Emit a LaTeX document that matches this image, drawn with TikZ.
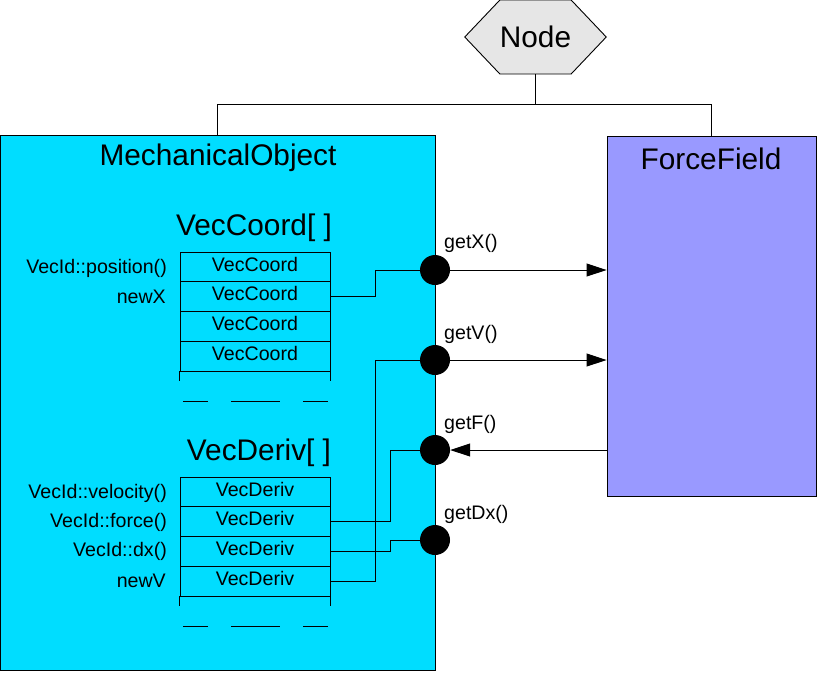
\documentclass[tikz,border=0pt]{standalone}
\usepackage{fontspec}
\setmainfont{Liberation Sans}
\usepackage{xcolor}
\usetikzlibrary{arrows.meta,shapes.symbols}
\definecolor{moCyan}{RGB}{0,221,255}
\definecolor{ffLilac}{RGB}{153,153,255}
\definecolor{nodeGrey}{RGB}{230,230,230}
\newcommand{\BigTxt}{\fontsize{29.8}{34}\selectfont}
\newcommand{\SmallTxt}{\fontsize{19.6}{22}\selectfont}
\tikzset{
  classbox/.style={draw,line width=0.9pt,inner sep=0pt},
  vecrow/.style={draw,line width=0.9pt,minimum width=150pt,minimum height=30pt,inner sep=0pt,
    text height=14pt,text depth=5pt,font=\SmallTxt},
  title/.style={inner sep=0pt,font=\BigTxt},
  lbl/.style={inner sep=0pt,font=\SmallTxt},
  port/.style={circle,fill=black,minimum size=30pt,inner sep=0pt},
  wire/.style={line width=0.9pt},
  getarrow/.style={line width=0.9pt,-{Triangle[length=20pt,width=13pt]}}
}

\begin{document}
\begin{tikzpicture}[x=1pt,y=-1pt]
\useasboundingbox (0,0) rectangle (819,673);
% the three classes
\node[signal,signal to=east and west,signal pointer angle=93,draw,line width=0.9pt,fill=nodeGrey,
  minimum width=141pt,minimum height=74pt,inner sep=0pt,font=\BigTxt] (nd) at (535.5,37) {Node};
\node[classbox,fill=moCyan,minimum width=435pt,minimum height=535pt] (mech) at (217.5,402.5) {};
\node[classbox,fill=ffLilac,minimum width=209pt,minimum height=360pt] (ff) at (711.5,316) {};
\draw[wire] (nd.south) -- ++(0,30) coordinate (split) -| (mech.north);
\draw[wire] (split) -| (ff.north);
\node[title] (mechtitle) at (218,158) {MechanicalObject};
\node[title] (fftitle) at (711,159) {ForceField};

% VecCoord array
\node[title] (vctitle) at (254,228) {VecCoord[ ]};
\node[vecrow,minimum height=29pt] (vc1) at (255,266.5) {VecCoord};
\node[vecrow] (vc2) at (255,296) {VecCoord};
\node[vecrow] (vc3) at (255,326) {VecCoord};
\node[vecrow] (vc4) at (255,356) {VecCoord};
\draw[wire] (vc4.south west) -- ++(0,10);
\draw[wire] (vc4.south east) -- ++(0,10);
\draw[wire] (183,401) -- (208,401) (231,401) -- (280,401) (303,401) -- (328,401);
\node[lbl,anchor=east] (lpos) at (167,268) {VecId::position()};
\node[lbl,anchor=east] (lnewx) at (166,297) {newX};

% VecDeriv array
\node[title] (vdtitle) at (259,453) {VecDeriv[ ]};
\node[vecrow,minimum height=29pt] (vd1) at (255,491.5) {VecDeriv};
\node[vecrow] (vd2) at (255,521) {VecDeriv};
\node[vecrow] (vd3) at (255,551) {VecDeriv};
\node[vecrow] (vd4) at (255,581) {VecDeriv};
\draw[wire] (vd4.south west) -- ++(0,10);
\draw[wire] (vd4.south east) -- ++(0,10);
\draw[wire] (183,626) -- (208,626) (231,626) -- (280,626) (303,626) -- (328,626);
\node[lbl,anchor=east] (lvel) at (167,493) {VecId::velocity()};
\node[lbl,anchor=east] (lforce) at (167,522) {VecId::force()};
\node[lbl,anchor=east] (ldx) at (167,551) {VecId::dx()};
\node[lbl,anchor=east] (lnewv) at (166,581) {newV};

% ports on the MechanicalObject border
\node[port] (px) at (435,270) {};
\node[port] (pv) at (435,360) {};
\node[port] (pf) at (435,450) {};
\node[port] (pdx) at (435,540) {};
\node[lbl,anchor=west] (lgx) at (444,243) {getX()};
\node[lbl,anchor=west] (lgv) at (444,334) {getV()};
\node[lbl,anchor=west] (lgf) at (444,424) {getF()};
\node[lbl,anchor=west] (lgdx) at (444,514) {getDx()};

% wiring
\draw[wire] (vc2.east) -- ++(45,0) |- (px.west);
\draw[wire] (vd4.east) -- ++(45,0) |- (pv.west);
\draw[wire] (vd2.east) -- ++(60,0) |- (pf.west);
\draw[wire] (vd3.east) -- ++(60,0) |- (pdx.west);
\draw[getarrow] (px.east) -- (px -| ff.west);
\draw[getarrow] (pv.east) -- (pv -| ff.west);
\draw[getarrow] (pf -| ff.west) -- (pf.east);
\end{tikzpicture}
\end{document}
